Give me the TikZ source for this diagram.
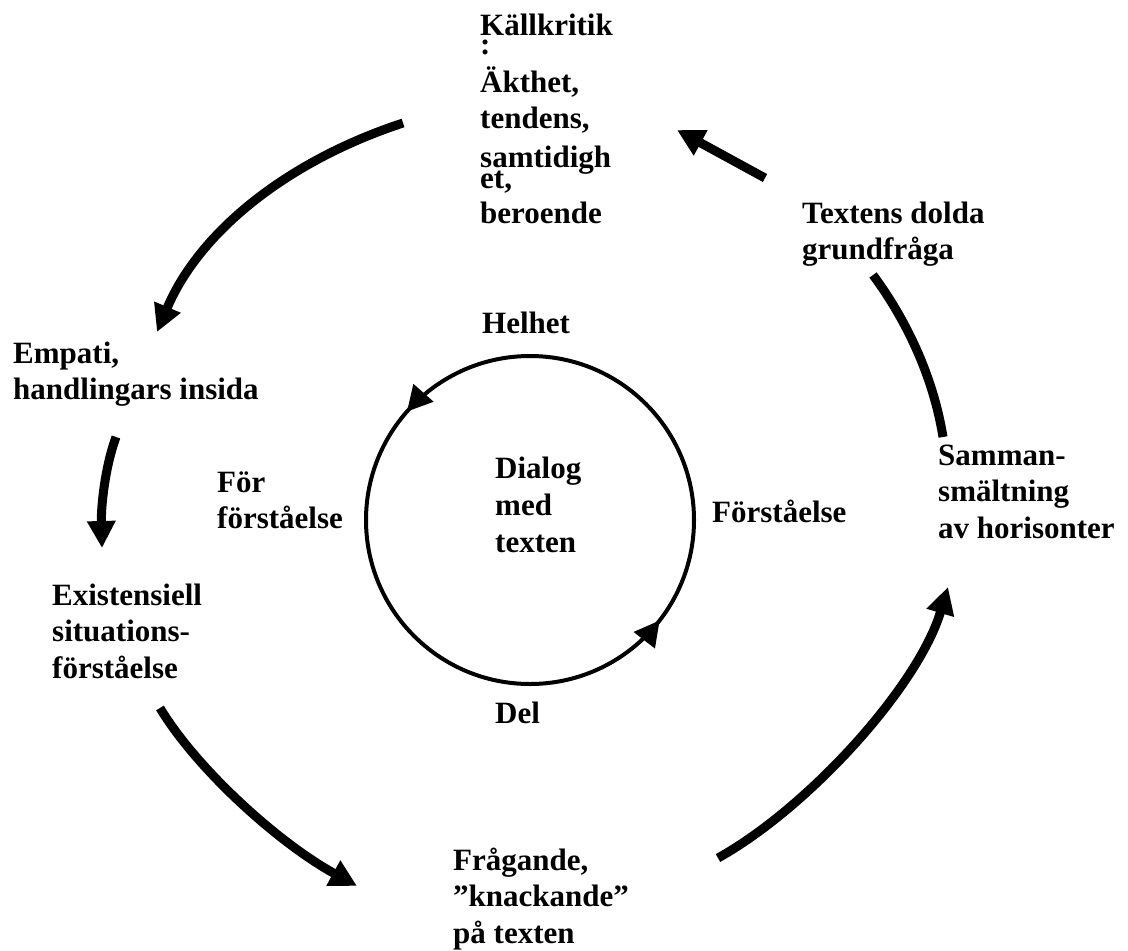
\documentclass[tikz,border=0pt]{standalone}
\usepackage{fontspec}
\setmainfont{Liberation Serif}
\usetikzlibrary{arrows.meta,decorations.markings}
\newcommand{\mylines}[1]{\begin{tabular}[t]{@{}l@{}}#1\end{tabular}}
\begin{document}
\begin{tikzpicture}[x=1pt,y=-1pt,
  lbl/.style={anchor=base west, inner sep=0pt, font=\fontsize{31}{36.5}\selectfont\bfseries},
  big/.style={line width=9pt, -{Triangle[length=27pt,width=27pt]}},
  plain/.style={line width=9pt},
  ring/.style={line width=4pt}]
\useasboundingbox (0,0) rectangle (1128,951);

% labels
\node[lbl] (kall) at (480,35) {\mylines{Källkritik\\[-17.5pt] :\\[1.5pt] Äkthet,\\ tendens,\\[2.5pt] samtidigh\\[-15.5pt] et,\\[-1.5pt] beroende}};
\node[lbl] (textens) at (802,223) {\mylines{Textens dolda\\ grundfråga}};
\node[lbl] (empati) at (13,363) {\mylines{Empati,\\ handlingars insida}};
\node[lbl] (helhet) at (482,333) {Helhet};
\node[lbl] (for) at (217,492) {\mylines{För\\ förståelse}};
\node[lbl] (dialog) at (495,478) {\mylines{Dialog\\[1pt] med\\ texten}};
\node[lbl] (forst) at (712,522) {Förståelse};
\node[lbl] (samman) at (938,465) {\mylines{Samman-\\ smältning\\ av horisonter}};
\node[lbl] (exist) at (52,605) {\mylines{Existensiell\\ situations-\\ förståelse}};
\node[lbl] (del) at (495,723) {Del};
\node[lbl] (fraga) at (453,870) {\mylines{Frågande,\\ ”knackande”\\ på texten}};

% inner circle
\coordinate (cc) at (530,520);
\draw[ring, postaction=decorate, decoration={markings,
   mark=at position 0.385 with {\arrow{Triangle[length=25pt,width=26pt]}},
   mark=at position 0.895 with {\arrow{Triangle[length=25pt,width=26pt]}}}]
   (cc) circle[radius=164pt];

% outer cycle
\coordinate (a1s) at (403,123); \coordinate (a1e) at (157,332);
\draw[big] (a1s) .. controls (290,160) and (200,230) .. (a1e);

\coordinate (a2s) at (765,178); \coordinate (a2e) at (677,130);
\draw[big] (a2s) -- (a2e);

\coordinate (a3s) at (943,437); \coordinate (a3e) at (873,275);
\draw[plain] (a3s) .. controls (933,375) and (905,318) .. (a3e);

\coordinate (a4s) at (116,437); \coordinate (a4e) at (102,548);
\draw[big] (a4s) .. controls (104,470) and (101,510) .. (a4e);

\coordinate (a5s) at (160,708); \coordinate (a5e) at (357,886);
\draw[big] (a5s) .. controls (196,768) and (277,842) .. (a5e);

\coordinate (a6s) at (718,858); \coordinate (a6e) at (948,587);
\draw[big] (a6s) .. controls (808,808) and (918,687) .. (a6e);
\end{tikzpicture}
\end{document}
